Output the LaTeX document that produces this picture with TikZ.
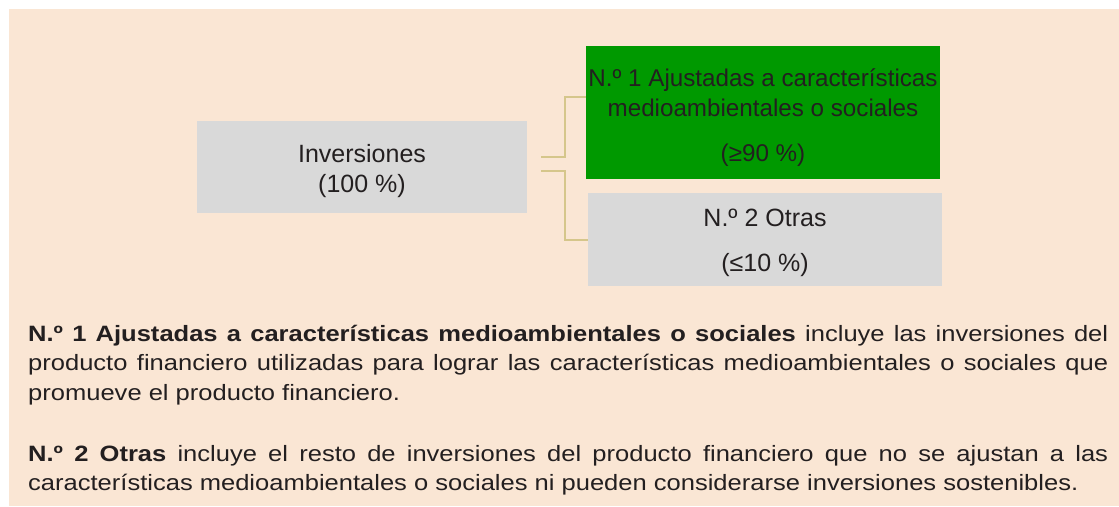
\documentclass[tikz,border=0pt]{standalone}
\usepackage{fontspec}
\setmainfont{Liberation Sans}
\newfontfamily\parafont[FakeStretch=1.15]{Liberation Sans}
\usetikzlibrary{positioning, calc}
\definecolor{peach}{HTML}{FAE6D4}
\definecolor{boxgray}{HTML}{D9D9D9}
\definecolor{boxgreen}{HTML}{009900}
\definecolor{linktan}{HTML}{D5C68B}
\definecolor{ink}{HTML}{231F20}
\newcommand{\lift}[1]{\rule{0pt}{#1pt}}

\begin{document}
\begin{tikzpicture}[x=1pt,y=-1pt,
  gray node/.style={fill=boxgray,inner sep=0pt,align=center,text=ink,font=\fontsize{25}{30}\selectfont},
  green node/.style={gray node,fill=boxgreen,font=\fontsize{24.2}{30}\selectfont},
  link/.style={draw=linktan,line width=2pt},
  para node/.style={anchor=base west,inner sep=0pt,text width=1080pt,align=justify,text=ink,
    font={\parafont\fontsize{22.2}{29.5}\selectfont}}]
  \useasboundingbox (0,0) rectangle (1119,506);
  \fill[peach] (9,9) rectangle (1119,506);

  \node[gray node,minimum width=330pt,minimum height=92pt] (inv) at (362,167) {\lift{26}Inversiones\\(100 \%)};
  \node[green node,minimum width=354pt,minimum height=133pt] (adj) at (763,112.5)
    {\lift{28}N.º 1 Ajustadas a características\\medioambientales o sociales\\[15pt](≥90 \%)};
  \node[gray node,minimum width=354pt,minimum height=93pt,below=14pt of adj,xshift=2pt] (otras)
    {\lift{24}N.º 2 Otras\\[15pt](≤10 \%)};

  \coordinate (fork1) at ($(inv.east)+(14,-10)$);
  \coordinate (fork2) at ($(inv.east)+(14,4)$);
  \coordinate (adjin) at ($(adj.west)+(0,-15.5)$);
  \draw[link] (fork1) -- ++(24,0) |- (adjin);
  \draw[link] (fork2) -- ++(24,0) |- (otras.west);

  \node[para node] (txtadj) at (28,341) {\hyphenpenalty=10000
    {\bfseries N.º 1 Ajustadas a características medioambientales o sociales} incluye las inversiones del\linebreak
    producto financiero utilizadas para lograr las características medioambientales o sociales que\linebreak
    promueve el producto financiero.};
  \node[para node] (txtotras) at (28,461) {\hyphenpenalty=10000
    {\bfseries N.º 2 Otras} incluye el resto de inversiones del producto financiero que no se ajustan a las\linebreak
    características medioambientales o sociales ni pueden considerarse inversiones sostenibles.};
\end{tikzpicture}
\end{document}
